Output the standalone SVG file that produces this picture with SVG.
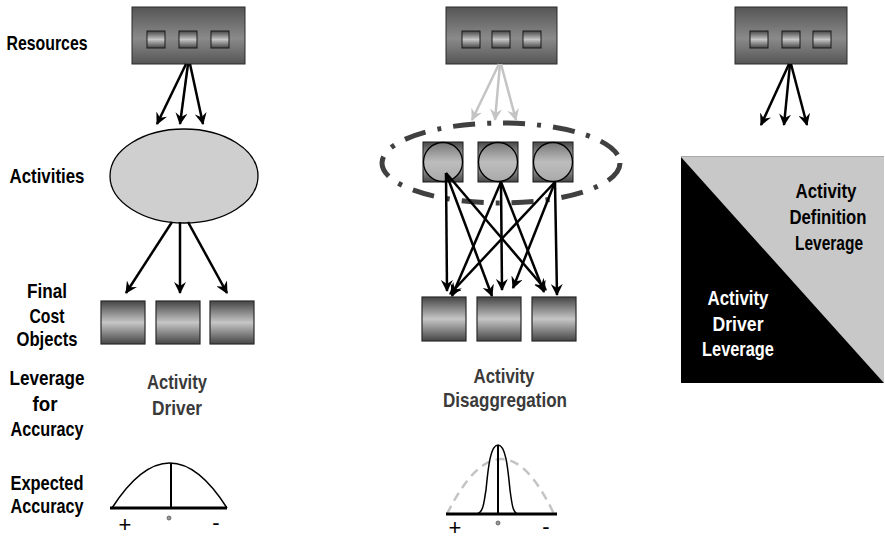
<svg xmlns="http://www.w3.org/2000/svg" width="885" height="540" viewBox="0 0 885 540">
<style>
.lbl{font-family:"Liberation Sans",Arial,sans-serif;font-weight:bold;font-size:21px;fill:#000;text-anchor:middle}
.sub{fill:#3a3a3a}
.wht{fill:#fff}
.res{fill:url(#gBox);stroke:#2a2a2a;stroke-width:1}
.sq{fill:url(#gMid);stroke:#1a1a1a;stroke-width:1}
.cost{fill:url(#gMid);stroke:#2a2a2a;stroke-width:1.2}
.circ{fill:url(#gCirc);stroke:#000;stroke-width:1.3}
.arr{stroke:#000;stroke-width:2.5;fill:none;marker-end:url(#ah)}
.garr{stroke:#c4c4c4;stroke-width:2.5;fill:none;marker-end:url(#gah)}
.cv{fill:none;stroke:#000;stroke-width:1.5}
.base{stroke:#000;stroke-width:3}
.sym{font-family:"Liberation Sans",Arial,sans-serif;font-size:22px;fill:#000;text-anchor:middle}
</style>
<defs>
<linearGradient id="gBox" x1="0" y1="0" x2="0" y2="1">
<stop offset="0" stop-color="#555"/><stop offset="0.55" stop-color="#8a8a8a"/><stop offset="1" stop-color="#555"/>
</linearGradient>
<linearGradient id="gMid" x1="0" y1="0" x2="0" y2="1">
<stop offset="0" stop-color="#454545"/><stop offset="0.5" stop-color="#c6c6c6"/><stop offset="1" stop-color="#454545"/>
</linearGradient>
<linearGradient id="gCirc" x1="0" y1="0" x2="0" y2="1">
<stop offset="0" stop-color="#777"/><stop offset="0.5" stop-color="#bdbdbd"/><stop offset="1" stop-color="#a9a9a9"/>
</linearGradient>
<marker id="ah" viewBox="0 0 12 12" refX="11" refY="6" markerWidth="12" markerHeight="12" markerUnits="userSpaceOnUse" orient="auto">
<path d="M0,0 L12,6 L0,12 L4,6 z" fill="#000"/>
</marker>
<marker id="gah" viewBox="0 0 12 12" refX="11" refY="6" markerWidth="12" markerHeight="12" markerUnits="userSpaceOnUse" orient="auto">
<path d="M0,0 L12,6 L0,12 L4,6 z" fill="#c4c4c4"/>
</marker>
</defs>

<g id="row-labels">
<text class="lbl" x="47" y="50" textLength="81" lengthAdjust="spacingAndGlyphs">Resources</text>
<text class="lbl" x="47" y="183" textLength="75" lengthAdjust="spacingAndGlyphs">Activities</text>
<text class="lbl" x="47" y="298" textLength="40" lengthAdjust="spacingAndGlyphs">Final</text>
<text class="lbl" x="47" y="323" textLength="35" lengthAdjust="spacingAndGlyphs">Cost</text>
<text class="lbl" x="47" y="346" textLength="61" lengthAdjust="spacingAndGlyphs">Objects</text>
<text class="lbl" x="47" y="385" textLength="75" lengthAdjust="spacingAndGlyphs">Leverage</text>
<text class="lbl" x="45" y="411" textLength="25" lengthAdjust="spacingAndGlyphs">for</text>
<text class="lbl" x="47" y="436" textLength="73" lengthAdjust="spacingAndGlyphs">Accuracy</text>
<text class="lbl" x="47" y="490" textLength="73" lengthAdjust="spacingAndGlyphs">Expected</text>
<text class="lbl" x="47" y="513" textLength="73" lengthAdjust="spacingAndGlyphs">Accuracy</text>
</g>

<!-- Column 1 -->
<g id="res1">
<rect class="res" x="132" y="7" width="113" height="57"/>
<rect class="sq" x="147" y="31" width="18" height="17"/>
<rect class="sq" x="179" y="31" width="18" height="17"/>
<rect class="sq" x="211" y="31" width="18" height="17"/>
</g>
<g id="act1">
<ellipse cx="184" cy="176" rx="74" ry="47" fill="#cfcfcf" stroke="#000" stroke-width="1.3"/>
</g>
<g id="cost1">
<rect class="cost" x="101" y="301" width="44" height="43"/>
<rect class="cost" x="156" y="301" width="44" height="43"/>
<rect class="cost" x="210" y="301" width="44" height="43"/>
</g>
<g id="lev1">
<text class="lbl sub" x="177" y="389" textLength="60" lengthAdjust="spacingAndGlyphs">Activity</text>
<text class="lbl sub" x="177" y="415" textLength="50" lengthAdjust="spacingAndGlyphs">Driver</text>
</g>
<g id="acc1">
<path class="cv" d="M112,508 Q170,418 227,508"/>
<line x1="171" y1="463" x2="171" y2="508" stroke="#000" stroke-width="2"/>
<line class="base" x1="110" y1="508" x2="227" y2="508"/>
<circle cx="169" cy="518" r="2" fill="#999" stroke="#555" stroke-width="0.8"/>
<text class="sym" x="125" y="532">+</text>
<text class="sym" x="216" y="530">-</text>
</g>

<!-- Column 2 -->
<g id="res2">
<rect class="res" x="446" y="7" width="111" height="57"/>
<rect class="sq" x="462" y="31" width="18" height="17"/>
<rect class="sq" x="492" y="31" width="18" height="17"/>
<rect class="sq" x="523" y="31" width="18" height="17"/>
</g>
<g id="group-ellipse">
<ellipse cx="501" cy="163" rx="119" ry="40" fill="none" stroke="#404040" stroke-width="5" stroke-dasharray="22 12 4 12"/>
</g>
<g id="act2a">
<rect class="sq" x="423" y="142" width="40" height="40"/>
<circle class="circ" cx="443" cy="162" r="19.5"/>
</g>
<g id="act2b">
<rect class="sq" x="478" y="142" width="40" height="40"/>
<circle class="circ" cx="498" cy="162" r="19.5"/>
</g>
<g id="act2c">
<rect class="sq" x="533" y="142" width="40" height="40"/>
<circle class="circ" cx="553" cy="162" r="19.5"/>
</g>
<g id="cost2">
<rect class="cost" x="422" y="297" width="44" height="44"/>
<rect class="cost" x="477" y="297" width="44" height="44"/>
<rect class="cost" x="532" y="297" width="44" height="44"/>
</g>
<g id="lev2">
<text class="lbl sub" x="504" y="383" textLength="61" lengthAdjust="spacingAndGlyphs">Activity</text>
<text class="lbl sub" x="505" y="407" textLength="124" lengthAdjust="spacingAndGlyphs">Disaggregation</text>
</g>
<g id="acc2">
<path d="M447,514 Q502,404 554,514" fill="none" stroke="#c4c4c4" stroke-width="2.5" stroke-dasharray="9 6"/>
<path class="cv" d="M477,514 C484,512 484,500 486,490 C488,470 490,445 498,445 C506,445 508,470 510,490 C512,505 513,512 517,514"/>
<line x1="498" y1="445" x2="498" y2="514" stroke="#000" stroke-width="2"/>
<line class="base" x1="446" y1="514" x2="557" y2="514"/>
<circle cx="498" cy="523" r="2" fill="#999" stroke="#555" stroke-width="0.8"/>
<text class="sym" x="455" y="535">+</text>
<text class="sym" x="546" y="534">-</text>
</g>

<!-- Column 3 -->
<g id="res3">
<rect class="res" x="735" y="7" width="112" height="57"/>
<rect class="sq" x="750" y="31" width="18" height="17"/>
<rect class="sq" x="782" y="31" width="18" height="17"/>
<rect class="sq" x="813" y="31" width="18" height="17"/>
</g>
<g id="leverage-square">
<polygon points="681,157 884,157 884,383" fill="#c8c8c8"/>
<polygon points="681,157 884,383 681,383" fill="#000"/>
<line x1="681" y1="156.5" x2="884" y2="156.5" stroke="#aaa" stroke-width="1"/>
<text class="lbl" x="826" y="198" textLength="61" lengthAdjust="spacingAndGlyphs">Activity</text>
<text class="lbl" x="828" y="224" textLength="77" lengthAdjust="spacingAndGlyphs">Definition</text>
<text class="lbl" x="829" y="250" textLength="68" lengthAdjust="spacingAndGlyphs">Leverage</text>
<text class="lbl wht" x="738" y="305" textLength="61" lengthAdjust="spacingAndGlyphs">Activity</text>
<text class="lbl wht" x="738" y="331" textLength="51" lengthAdjust="spacingAndGlyphs">Driver</text>
<text class="lbl wht" x="738" y="356" textLength="72" lengthAdjust="spacingAndGlyphs">Leverage</text>
</g>

<g id="connectors">
<line class="arr" x1="186" y1="64" x2="157" y2="124"/>
<line class="arr" x1="188" y1="64" x2="180" y2="124"/>
<line class="arr" x1="190" y1="64" x2="203" y2="124"/>
<line class="arr" x1="172" y1="222" x2="126" y2="293"/>
<line class="arr" x1="180" y1="222" x2="180" y2="293"/>
<line class="arr" x1="188" y1="222" x2="227" y2="293"/>
<line class="garr" x1="499" y1="64" x2="472" y2="120"/>
<line class="garr" x1="500" y1="64" x2="495" y2="120"/>
<line class="garr" x1="501" y1="64" x2="516" y2="120"/>
<line class="arr" x1="446" y1="173" x2="447" y2="291"/>
<line class="arr" x1="446" y1="173" x2="492" y2="296"/>
<line class="arr" x1="446" y1="173" x2="546" y2="290"/>
<line class="arr" x1="501" y1="182" x2="452" y2="296"/>
<line class="arr" x1="501" y1="182" x2="502" y2="290"/>
<line class="arr" x1="501" y1="182" x2="544" y2="292"/>
<line class="arr" x1="555" y1="182" x2="450" y2="294"/>
<line class="arr" x1="555" y1="182" x2="513" y2="288"/>
<line class="arr" x1="555" y1="182" x2="557" y2="295"/>
<line class="arr" x1="789" y1="64" x2="761" y2="125"/>
<line class="arr" x1="790" y1="64" x2="784" y2="125"/>
<line class="arr" x1="791" y1="64" x2="807" y2="125"/>
</g>
</svg>
